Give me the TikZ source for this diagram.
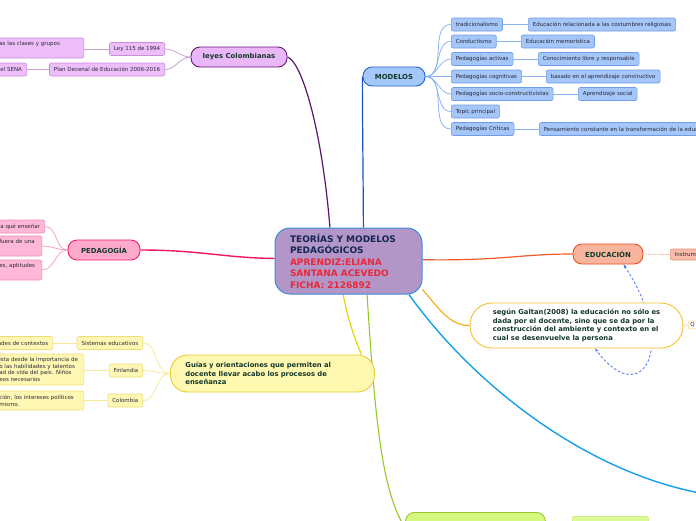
\documentclass[tikz,border=0pt]{standalone}
\usepackage{fontspec}
\setmainfont{DejaVu Sans}
\usepackage{tikz}
\usetikzlibrary{backgrounds,arrows.meta}
\definecolor{centerfill}{RGB}{178,150,200}
\definecolor{centerline}{RGB}{60,140,220}
\definecolor{titleink}{RGB}{22,38,82}
\definecolor{fichared}{RGB}{232,40,56}
\definecolor{inkgreen}{RGB}{20,56,44}
\definecolor{leafink}{RGB}{40,40,56}
\definecolor{lawfill}{RGB}{234,184,248}
\definecolor{lawline}{RGB}{100,24,120}
\definecolor{lawedge}{RGB}{90,20,110}
\definecolor{lawleaf}{RGB}{238,190,250}
\definecolor{lawleafline}{RGB}{200,140,220}
\definecolor{lawtwig}{RGB}{200,160,210}
\definecolor{modfill}{RGB}{164,200,248}
\definecolor{modline}{RGB}{32,100,208}
\definecolor{modedge}{RGB}{20,80,200}
\definecolor{modleaf}{RGB}{164,198,248}
\definecolor{modleafline}{RGB}{110,156,232}
\definecolor{modtwig}{RGB}{140,180,240}
\definecolor{pedfill}{RGB}{255,170,204}
\definecolor{pedline}{RGB}{232,32,108}
\definecolor{pededge}{RGB}{240,20,100}
\definecolor{pedleaf}{RGB}{255,184,214}
\definecolor{pedleafline}{RGB}{240,136,184}
\definecolor{pedtwig}{RGB}{248,160,196}
\definecolor{guidefill}{RGB}{255,248,176}
\definecolor{guideline}{RGB}{232,204,48}
\definecolor{guideedge}{RGB}{232,212,0}
\definecolor{guideleaf}{RGB}{255,248,180}
\definecolor{guideleafline}{RGB}{240,220,120}
\definecolor{guidetwig}{RGB}{248,232,152}
\definecolor{edufill}{RGB}{248,180,156}
\definecolor{eduline}{RGB}{232,80,32}
\definecolor{eduedge}{RGB}{240,90,40}
\definecolor{eduleaf}{RGB}{248,188,168}
\definecolor{eduleafline}{RGB}{232,144,120}
\definecolor{edutwig}{RGB}{248,200,184}
\definecolor{galtanline}{RGB}{248,192,48}
\definecolor{galtanedge}{RGB}{248,176,32}
\definecolor{galtanleaf}{RGB}{240,216,150}
\definecolor{skyedge}{RGB}{20,160,232}
\definecolor{greenedge}{RGB}{152,200,40}
\definecolor{greenfill}{RGB}{212,248,128}
\definecolor{greenline}{RGB}{152,200,48}
\definecolor{greenleaf}{RGB}{220,250,150}
\definecolor{greenleafline}{RGB}{200,232,112}
\definecolor{linkblue}{RGB}{80,112,232}

\begin{document}
\begin{tikzpicture}[x=1pt,y=-1pt,line cap=round,line join=round,
  idea/.style={draw,rounded corners=9pt,line width=0.9pt,font=\bfseries\fontsize{6.9}{8.5}\selectfont,text=inkgreen,minimum height=20pt,inner xsep=8pt},
  leaf/.style={draw,rounded corners=2pt,line width=0.6pt,font=\fontsize{5.5}{6.7}\selectfont,text=leafink,minimum height=13pt,inner xsep=4.5pt,inner ysep=1pt},
  cutleaf/.style={leaf,anchor=west,align=left},
  twig/.style={line width=0.8pt}]
  \useasboundingbox (0,0) rectangle (696,520);
  % central topic
  \node[draw=centerline,fill=centerfill,line width=1pt,rounded corners=15pt,minimum width=147pt,minimum height=66pt,text width=117pt,inner xsep=15pt,align=left,font=\bfseries\fontsize{9}{11.5}\selectfont,text=titleink] (theory) at (348.5,261)
    {TEORÍAS Y MODELOS\\PEDAGÓGICOS\\\textcolor{fichared}{APRENDIZ:ELIANA}\\\textcolor{fichared}{SANTANA ACEVEDO}\\\textcolor{fichared}{FICHA: 2126892}};
  % leyes
  \node[idea,fill=lawfill,draw=lawline,minimum width=96pt] (laws) at (239,57) {Ieyes Colombianas};
  \node[leaf,fill=lawleaf,draw=lawleafline,anchor=east] (ley) at (165,49) {Ley 115 de 1994};
  \node[leaf,fill=lawleaf,draw=lawleafline,anchor=east] (plan) at (165,69.5) {Plan Decenal de Educación 2006-2016};
  \node[cutleaf,fill=lawleaf,draw=lawleafline,minimum height=20pt,text width=80pt] (leytext) at (-5.5,48) {as las clases y grupos\\\strut};
  \node[cutleaf,fill=lawleaf,draw=lawleafline,text width=22pt] (plantext) at (-4.5,69.5) {el SENA};
  % modelos
  \node[idea,fill=modfill,draw=modline,minimum width=62pt,minimum height=19pt] (models) at (394,76.5) {MODELOS};
  \node[leaf,fill=modleaf,draw=modleafline,anchor=west] (trad) at (451,24.5) {tradicionalismo};
  \node[leaf,fill=modleaf,draw=modleafline,anchor=west] (behav) at (451,41.5) {Conductismo};
  \node[leaf,fill=modleaf,draw=modleafline,anchor=west] (active) at (451,59) {Pedagogías activas};
  \node[leaf,fill=modleaf,draw=modleafline,anchor=west] (cognitive) at (451,76.5) {Pedagogías cognitivas};
  \node[leaf,fill=modleaf,draw=modleafline,anchor=west] (socio) at (451,94) {Pedagogías socio-constructivistas};
  \node[leaf,fill=modleaf,draw=modleafline,anchor=west] (topic) at (451,111.5) {Topic principal};
  \node[leaf,fill=modleaf,draw=modleafline,anchor=west] (critical) at (451,129) {Pedagogías Críticas};
  \node[leaf,fill=modleaf,draw=modleafline,anchor=west] (religious) at (528,24.5) {Educación relacionada a las costumbres religiosas};
  \node[leaf,fill=modleaf,draw=modleafline,anchor=west] (memory) at (521,41.5) {Educación memorística};
  \node[leaf,fill=modleaf,draw=modleafline,anchor=west] (free) at (538,59) {Conocimiento libre y responsable};
  \node[leaf,fill=modleaf,draw=modleafline,anchor=west] (constructive) at (546,76.5) {basado en el aprendizaje constructivo};
  \node[leaf,fill=modleaf,draw=modleafline,anchor=west] (social) at (578,94) {Aprendizaje social};
  \node[leaf,fill=modleaf,draw=modleafline,anchor=west,text width=200pt,align=left] (change) at (539,129) {Pensamiento constante en la transformación de la educ};
  % pedagogia
  \node[idea,fill=pedfill,draw=pedline,minimum width=72pt] (pedagogy) at (104,250) {PEDAGOGÍA};
  \node[cutleaf,fill=pedleaf,draw=pedleafline,text width=40pt] (teachwhat) at (-4.5,226.5) {a qué enseñar};
  \node[cutleaf,fill=pedleaf,draw=pedleafline,minimum height=20pt,text width=38pt] (outside) at (-5.5,246) {fuera de una\\\strut};
  \node[cutleaf,fill=pedleaf,draw=pedleafline,minimum height=20pt,text width=38pt] (skills) at (-5.5,270) {es, aptitudes\\\strut};
  % guias
  \node[idea,fill=guidefill,draw=guideline,rounded corners=17pt,anchor=west,minimum width=204pt,minimum height=37pt,text width=174pt,inner xsep=15pt,align=left,font=\bfseries\fontsize{6.8}{8.5}\selectfont] (guides) at (170,373.5)
    {Guías y orientaciones que permiten al\\docente llevar acabo los procesos de\\enseñanza};
  \node[leaf,fill=guideleaf,draw=guideleafline,anchor=east] (systems) at (143,343) {Sistemas educativos};
  \node[leaf,fill=guideleaf,draw=guideleafline,anchor=east] (finland) at (143,370.5) {Finlandia};
  \node[leaf,fill=guideleaf,draw=guideleafline,anchor=east] (colombia) at (143,400.5) {Colombia};
  \node[leaf,fill=guideleaf,draw=guideleafline,anchor=east] (systemstext) at (53,343) {ades de contextos};
  \node[cutleaf,fill=guideleaf,draw=guideleafline,minimum height=31pt,text width=80pt] (finlandtext) at (-5.5,369.5)
    {ista desde la importancia de\\o las habilidades y talentos\\ad de vida del país. Niños\\eos necesarios};
  \node[cutleaf,fill=guideleaf,draw=guideleafline,minimum height=19pt,text width=80pt] (colombiatext) at (-5.5,400.5)
    {ción, los intereses políticos\\mismo.};
  % educacion
  \node[idea,fill=edufill,draw=eduline,minimum width=70pt] (education) at (608,254) {EDUCACIÓN};
  \node[leaf,fill=eduleaf,draw=eduleafline,anchor=west,text width=40pt,align=left,minimum height=11pt] (tools) at (670,254.5) {Instrum};
  % Galtan
  \node[draw=galtanline,fill=white,line width=0.9pt,rounded corners=22pt,minimum width=213pt,minimum height=45pt,align=left,font=\bfseries\fontsize{6.8}{8.5}\selectfont,text=inkgreen] (galtan) at (576.5,325.5)
    {según Galtan(2008) la educación no sólo es\\dada por el docente, sino que se da por la\\construcción del ambiente y contexto en el\\cual se desenvuelve la persona};
  \node[leaf,fill=white,draw=galtanleaf,anchor=west,minimum height=8pt,inner xsep=2pt,inner ysep=0.5pt] (galtanq) at (688,325) {Q};
  % bottom branch
  \node[draw=greenline,fill=greenfill,line width=0.9pt,rounded corners=9pt,anchor=north west,minimum width=140pt,minimum height=30pt] (lowidea) at (405,512) {};
  \node[draw=greenleafline,fill=greenleaf,line width=0.6pt,rounded corners=2pt,anchor=north west,minimum width=76pt,minimum height=20pt] (lowleaf) at (572,516) {};
  \coordinate (offright) at (700,493);

  \begin{pgfonlayer}{background}
    % main branches
    \draw[lawedge,line width=1.2pt] (theory.119) .. controls (322,130) and (302,62) .. (laws.east);
    \draw[modedge,line width=1.2pt] (theory.66) .. controls (363,150) and (362,84) .. (models.west);
    \draw[pededge,line width=1.4pt] (theory.178) .. controls (225,258) and (200,250) .. (pedagogy.east);
    \draw[guideedge,line width=1.2pt] (theory.-99) .. controls (348,320) and (355,340) .. (guides.12);
    \draw[greenedge,line width=1.1pt] (theory.-61) .. controls (375,420) and (382,492) .. (lowidea.west);
    \draw[skyedge,line width=1.4pt] (theory.-29) .. controls (470,380) and (580,470) .. (offright);
    \draw[galtanedge,line width=1.2pt] (theory.-21) .. controls (440,310) and (450,325.5) .. (galtan.west);
    \draw[eduedge,line width=1.2pt] (theory.1) .. controls (500,261) and (520,254) .. (education.west);
    % leyes twigs
    \draw[lawtwig,twig] (laws.west) to[out=180,in=0] (ley.east);
    \draw[lawtwig,twig] (laws.west) to[out=180,in=0] (plan.east);
    \draw[lawtwig,twig] (ley.west) -- (leytext.east |- ley.west);
    \draw[lawtwig,twig] (plan.west) -- (plantext.east);
    % modelos twigs
    \draw[modtwig,twig] (models.east) to[out=0,in=180] (trad.west);
    \draw[modtwig,twig] (models.east) to[out=0,in=180] (behav.west);
    \draw[modtwig,twig] (models.east) to[out=0,in=180] (active.west);
    \draw[modtwig,twig] (models.east) to[out=0,in=180] (cognitive.west);
    \draw[modtwig,twig] (models.east) to[out=0,in=180] (socio.west);
    \draw[modtwig,twig] (models.east) to[out=0,in=180] (topic.west);
    \draw[modtwig,twig] (models.east) to[out=0,in=180] (critical.west);
    \draw[modtwig,twig] (trad.east) -- (religious.west);
    \draw[modtwig,twig] (behav.east) -- (memory.west);
    \draw[modtwig,twig] (active.east) -- (free.west);
    \draw[modtwig,twig] (cognitive.east) -- (constructive.west);
    \draw[modtwig,twig] (socio.east) -- (social.west);
    \draw[modtwig,twig] (critical.east) -- (change.west);
    % pedagogia twigs
    \draw[pedtwig,twig] (pedagogy.west) to[out=180,in=0] (teachwhat.east);
    \draw[pedtwig,twig] (pedagogy.west) to[out=180,in=0] (outside.east);
    \draw[pedtwig,twig] (pedagogy.west) to[out=180,in=0] (skills.east);
    % guias twigs
    \draw[guidetwig,twig] (guides.west) to[out=180,in=0] (systems.east);
    \draw[guidetwig,twig] (guides.west) to[out=180,in=0] (finland.east);
    \draw[guidetwig,twig] (guides.west) to[out=180,in=0] (colombia.east);
    \draw[guidetwig,twig] (systems.west) -- (systemstext.east);
    \draw[guidetwig,twig] (finland.west) -- (finlandtext.east |- finland.west);
    \draw[guidetwig,twig] (colombia.west) -- (colombiatext.east);
    % educacion and Galtan twigs
    \draw[edutwig,twig] (education.east) -- (tools.west);
    \draw[galtanleaf,twig] (galtan.east) -- (galtanq.west);
    % relation
    \draw[linkblue,line width=0.8pt,dash pattern=on 2.5pt off 2pt,{Stealth[length=4pt]}-{Stealth[length=4pt]}] (education.-34) .. controls (680,350) and (640,410) .. (galtan.-51);
  \end{pgfonlayer}
\end{tikzpicture}
\end{document}
